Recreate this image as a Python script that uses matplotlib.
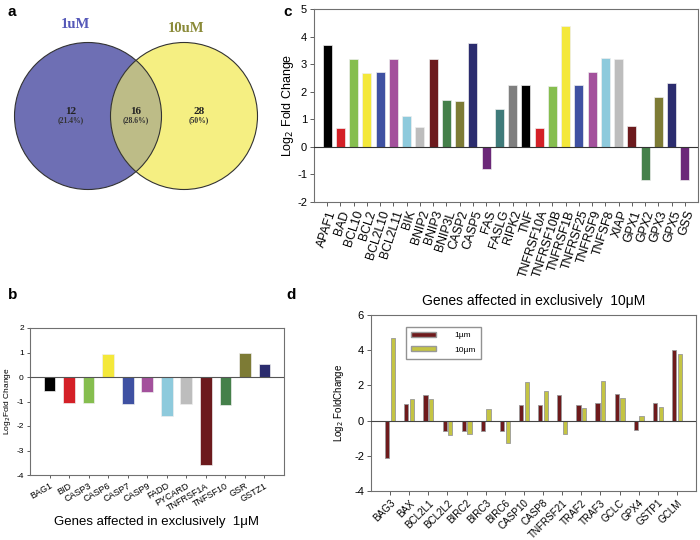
import matplotlib
matplotlib.use("Agg")
import matplotlib.pyplot as plt
from matplotlib.patches import Circle, Patch
import numpy as np

plt.rcParams['font.family'] = ['Liberation Sans', 'DejaVu Sans']

# ---------------- data ----------------
venn_labels = ["1uM", "10uM"]
venn_counts = [12, 16, 28]
venn_pcts = ["(21.4%)", "(28.6%)", "(50%)"]

c_genes = ["APAF1", "BAD", "BCL10", "BCL2", "BCL2L10", "BCL2L11", "BIK", "BNIP2",
           "BNIP3", "BNIP3L", "CASP2", "CASP5", "FAS", "FASLG", "RIPK2", "TNF",
           "TNFRSF10A", "TNFRSF10B", "TNFRSF1B", "TNFRSF25", "TNFRSF9", "TNFSF8",
           "XIAP", "GPX1", "GPX2", "GPX3", "GPX5", "GSS"]
c_values = [3.7, 0.68, 3.18, 2.68, 2.72, 3.2, 1.13, 0.73, 3.2, 1.7, 1.68, 3.78,
            -0.8, 1.37, 2.23, 2.23, 0.68, 2.2, 4.4, 2.23, 2.7, 3.22, 3.2, 0.77,
            -1.22, 1.8, 2.3, -1.22]

b_genes = ["BAG1", "BID", "CASP3", "CASP6", "CASP7", "CASP9", "FADD", "PYCARD",
           "TNFRSF1A", "TNFSF10", "GSR", "GSTZ1"]
b_values = [-0.57, -1.07, -1.07, 0.92, -1.1, -0.6, -1.6, -1.1, -3.6, -1.13, 1.0, 0.52]

d_genes = ["BAG3", "BAX", "BCL2L1", "BCL2L2", "BIRC2", "BIRC3", "BIRC6", "CASP10",
           "CASP8", "TNFRSF21", "TRAF2", "TRAF3", "GCLC", "GPX4", "GSTP1", "GCLM"]
d_1um = [-2.15, 0.92, 1.47, -0.6, -0.57, -0.57, -0.57, 0.9, 0.9, 1.47, 0.9, 1.0,
         1.5, -0.55, 1.02, 4.0]
d_10um = [4.72, 1.2, 1.2, -0.8, -0.77, 0.68, -1.27, 2.17, 1.67, -0.77, 0.7, 2.23,
          1.3, 0.28, 0.8, 3.77]
d_series = ["1\u00b5m", "10\u00b5m"]

palette = ["#000000", "#D42027", "#86BE4F", "#F4E83A", "#3F51A2", "#A3519C",
           "#8ECADC", "#BDBDBD", "#6C1A1D", "#45804A", "#7D7B35", "#2B2C6E",
           "#6B2878", "#3F7B7A", "#7F7F7F"]

fig = plt.figure(figsize=(7, 5.4), dpi=100)
W, H = 700, 540

def ax_px(l, t, r, b):
    return fig.add_axes([l / W, 1 - b / H, (r - l) / W, (b - t) / H])

spine_col = "#707070"

# ---------------- panel a: Venn ----------------
axa = ax_px(0, 0, 280, 260)
axa.set_xlim(0, 280)
axa.set_ylim(260, 0)
axa.axis("off")
axa.add_patch(Circle((88, 116), 73.5, facecolor="#6E6FB4", edgecolor="none", zorder=1))
axa.add_patch(Circle((184, 116), 73.5, facecolor="#F5EF82", edgecolor="none", zorder=1))
clip = Circle((88, 116), 73.5, transform=axa.transData)
ov = Circle((184, 116), 73.5, facecolor="#BDBC87", edgecolor="none", zorder=2)
axa.add_patch(ov)
ov.set_clip_path(clip)
axa.add_patch(Circle((88, 116), 73.5, facecolor="none", edgecolor="#333333", lw=0.8, zorder=3))
axa.add_patch(Circle((184, 116), 73.5, facecolor="none", edgecolor="#333333", lw=0.8, zorder=3))
axa.text(75, 25, venn_labels[0], color="#5558B8", fontsize=10.5, fontweight="bold",
         family="Liberation Serif", ha="center", va="center")
axa.text(186, 28, venn_labels[1], color="#8A8A38", fontsize=10.5, fontweight="bold",
         family="Liberation Serif", ha="center", va="center")
for (x, n, p) in zip([71, 136, 199], venn_counts, venn_pcts):
    axa.text(x, 111, str(n), fontsize=8, fontweight="bold", family="Liberation Serif",
             ha="center", va="center", color="#222222", zorder=4)
    axa.text(x, 120, p, fontsize=5.5, fontweight="bold", family="Liberation Serif",
             ha="center", va="center", color="#333333", zorder=4)

# ---------------- panel c ----------------
axc = ax_px(314, 9, 698, 202)
xc = np.arange(len(c_genes))
cols_c = [palette[i % len(palette)] for i in range(len(c_genes))]
axc.bar(xc, c_values, width=0.68, color=cols_c, edgecolor="#EEEEEE", linewidth=0.5, zorder=2)
axc.axhline(0, color="#333333", lw=0.8, zorder=3)
axc.set_xlim(-1, len(c_genes))
axc.set_ylim(-2, 5)
axc.set_yticks(range(-2, 6))
axc.set_yticklabels([str(v) for v in range(-2, 6)], fontsize=8)
axc.set_xticks(xc)
axc.set_xticklabels(c_genes, rotation=72, ha="right", rotation_mode="anchor", fontsize=8.8)
axc.tick_params(axis="both", length=3, width=0.6, color="#444444", pad=2)
axc.set_ylabel("Log$_2$ Fold Change", fontsize=9, labelpad=1)
for s in axc.spines.values():
    s.set_color(spine_col)
    s.set_linewidth(0.8)

# ---------------- panel b ----------------
axb = ax_px(30, 328, 284, 475)
xb = np.arange(len(b_genes))
cols_b = [palette[i % len(palette)] for i in range(len(b_genes))]
axb.bar(xb, b_values, width=0.6, color=cols_b, edgecolor="#EEEEEE", linewidth=0.5, zorder=2)
axb.axhline(0, color="#555555", lw=0.8, zorder=3)
axb.set_xlim(-1, len(b_genes))
axb.set_ylim(-4, 2)
axb.set_yticks(range(-4, 3))
axb.set_yticklabels([str(v) for v in range(-4, 3)], fontsize=6)
axb.set_xticks(xb)
axb.set_xticklabels(b_genes, rotation=30, ha="right", rotation_mode="anchor", fontsize=6.5)
axb.tick_params(axis="both", length=2.5, width=0.6, color="#444444", pad=2)
axb.set_ylabel("Log$_2$Fold Change", fontsize=6, labelpad=2)
axb.set_xlabel("Genes affected in exclusively  1\u03bcM", fontsize=9.5, labelpad=3)
for s in axb.spines.values():
    s.set_color(spine_col)
    s.set_linewidth(0.8)

# ---------------- panel d ----------------
axd = ax_px(371, 315, 696, 491)
xd = np.arange(len(d_genes))
axd.bar(xd - 0.15, d_1um, width=0.22, color="#6E1A1C", edgecolor="#999999",
        linewidth=0.6, zorder=2, label=d_series[0])
axd.bar(xd + 0.15, d_10um, width=0.22, color="#C4C443", edgecolor="#999999",
        linewidth=0.6, zorder=2, label=d_series[1])
axd.axhline(0, color="#444444", lw=0.8, zorder=3)
axd.set_xlim(-1, len(d_genes))
axd.set_ylim(-4, 6)
axd.set_yticks(range(-4, 7, 2))
axd.set_yticklabels([str(v) for v in range(-4, 7, 2)], fontsize=8)
axd.set_xticks(xd)
axd.set_xticklabels(d_genes, rotation=45, ha="right", rotation_mode="anchor", fontsize=7.1)
axd.tick_params(axis="both", length=3, width=0.6, color="#444444", pad=2)
axd.set_ylabel("Log$_2$ FoldChange", fontsize=7, labelpad=6)
axd.set_title("Genes affected in exclusively  10\u03bcM", fontsize=10, pad=7)
for s in axd.spines.values():
    s.set_color(spine_col)
    s.set_linewidth(0.8)
handles = [Patch(facecolor="#6E1A1C", edgecolor="#999999"),
           Patch(facecolor="#C4C443", edgecolor="#999999")]
axd.legend(handles, d_series, loc="upper left", bbox_to_anchor=(0.108, 0.932),
           borderaxespad=0, fontsize=6, frameon=True, fancybox=False,
           edgecolor="#777777", handlelength=3.0, handleheight=0.55, borderpad=0.6,
           labelspacing=0.8, handletextpad=2.2)

# ---------------- panel letters ----------------
for (x, y, t) in [(8, 12, "a"), (283, 12, "c"), (8, 295, "b"), (286, 295, "d")]:
    fig.text(x / W, 1 - y / H, t, fontsize=11, fontweight="bold", ha="left", va="center")

fig.savefig("out.png", dpi=100)
